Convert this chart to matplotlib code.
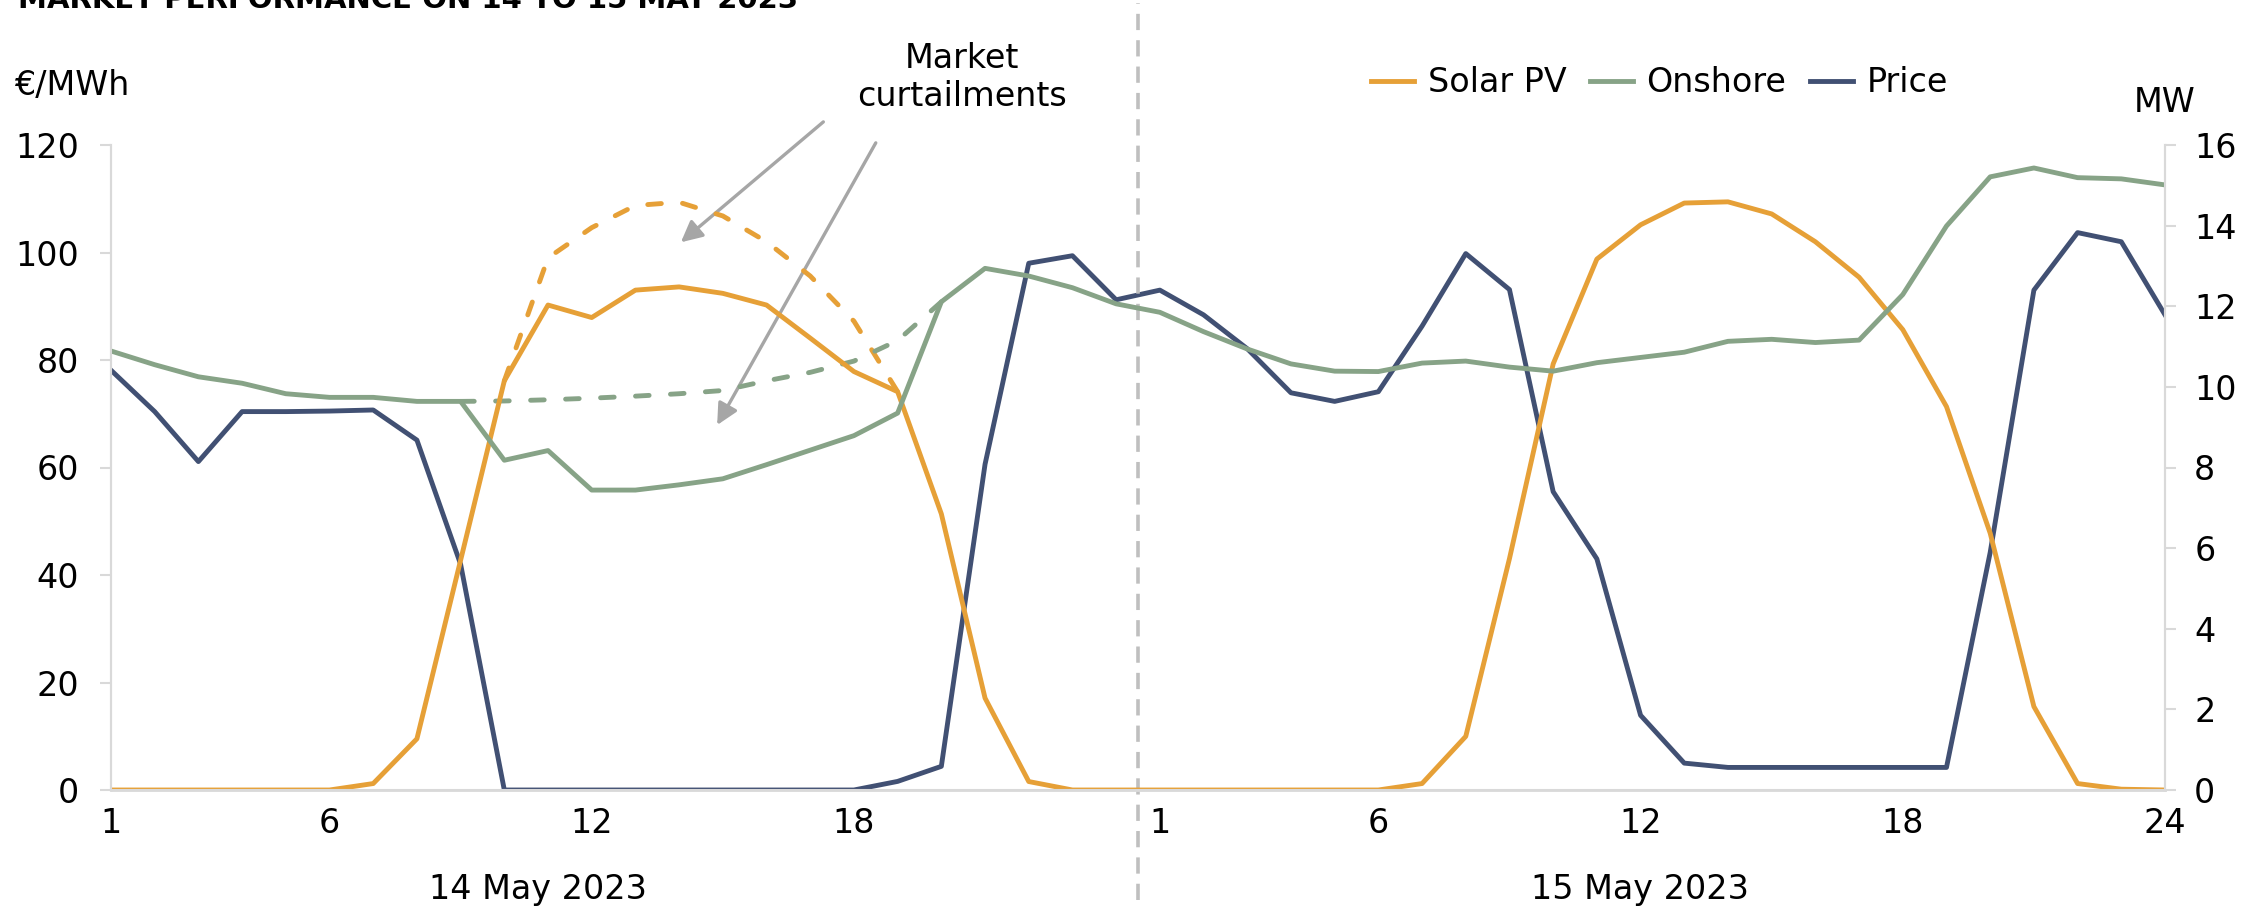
import numpy as np
import matplotlib
matplotlib.use('Agg')
import matplotlib.pyplot as plt

plt.rcParams['font.family'] = ['DejaVu Sans']

# hourly data, 14 May (1..24) then 15 May (1..24)
tick_pos = [0, 5, 11, 17, 24, 29, 35, 41, 47]
tick_lab = ['1', '6', '12', '18', '1', '6', '12', '18', '24']

price = [78.1, 70.4, 61.1, 70.4, 70.4, 70.5, 70.7, 65.1, 42.0, 0, 0, 0,
         0, 0, 0, 0, 0, 0, 1.6, 4.4, 60.6, 98.0, 99.4, 91.2,
         93.0, 88.4, 82.1, 73.9, 72.3, 74.1, 86.3, 99.8, 93.1, 55.5, 43.0, 13.9,
         5.0, 4.2, 4.2, 4.2, 4.2, 4.2, 4.2, 44.2, 93.0, 103.7, 102.0, 88.4]
onshore = [10.89, 10.55, 10.25, 10.09, 9.83, 9.74, 9.74, 9.64, 9.64, 8.18, 8.42, 7.44,
           7.44, 7.57, 7.72, 8.07, 8.43, 8.79, 9.35, 12.11, 12.94, 12.75, 12.46, 12.06,
           11.85, 11.37, 10.94, 10.57, 10.39, 10.38, 10.59, 10.64, 10.49, 10.39, 10.60, 10.73,
           10.86, 11.13, 11.18, 11.10, 11.16, 12.29, 13.99, 15.21, 15.43, 15.19, 15.16, 15.01]
solar = [0, 0, 0, 0, 0, 0, 0.16, 1.27, 5.7, 10.15, 12.03, 11.72,
         12.40, 12.48, 12.32, 12.03, 11.21, 10.38, 9.88, 6.85, 2.28, 0.21, 0, 0,
         0, 0, 0, 0, 0, 0, 0.16, 1.33, 5.74, 10.57, 13.17, 14.02,
         14.56, 14.59, 14.29, 13.60, 12.72, 11.42, 9.51, 6.37, 2.07, 0.16, 0.02, 0]
# potential output without market curtailment (14 May)
solar_pot_x = [9, 10, 11, 12, 13, 14, 15, 16, 17, 18]
solar_pot = [10.15, 13.2, 13.95, 14.5, 14.58, 14.24, 13.6, 12.75, 11.63, 9.88]
onshore_pot_x = [8, 9, 10, 11, 12, 13, 14, 15, 16, 17, 18, 19]
onshore_pot = [9.64, 9.65, 9.68, 9.72, 9.77, 9.83, 9.91, 10.15, 10.36, 10.64, 11.15, 12.11]

C_SOLAR = '#E6A037'
C_WIND = '#87A387'
C_PRICE = '#415073'
C_GRID = '#D9D9D9'
FS = 24
LW = 3.5
W, H = 2242, 906

x = np.arange(len(price))
fig = plt.figure(figsize=(W / 100, H / 100), dpi=100)
ax = fig.add_axes([111 / W, 1 - 790 / H, (2165 - 111) / W, (790 - 145) / H])
ax2 = ax.twinx()

ax.plot(x, price, color=C_PRICE, lw=LW, label='Price')
ax2.plot(solar_pot_x, solar_pot, color=C_SOLAR, lw=LW, ls=(0, (2.8, 4.4)), dash_capstyle='round')
ax2.plot(onshore_pot_x, onshore_pot, color=C_WIND, lw=LW, ls=(0, (2.8, 4.4)), dash_capstyle='round')
ax2.plot(x, solar, color=C_SOLAR, lw=LW, label='Solar PV')
ax2.plot(x, onshore, color=C_WIND, lw=LW, label='Onshore')

ax.set_xlim(0, 47)
ax.set_ylim(0, 120)
ax2.set_ylim(0, 16)
ax.set_yticks(range(0, 121, 20))
ax2.set_yticks(range(0, 17, 2))
ax.set_xticks(tick_pos)
ax.set_xticklabels(tick_lab)

for a in (ax, ax2):
    a.spines['top'].set_visible(False)
    for s in ('left', 'right', 'bottom'):
        a.spines[s].set_color(C_GRID)
        a.spines[s].set_linewidth(1.5)
    a.tick_params(axis='y', length=8, width=1.5, color=C_GRID, labelsize=FS)
    a.tick_params(axis='x', length=0, labelsize=FS, pad=12)
ax.tick_params(axis='y', pad=15)
ax2.tick_params(axis='y', pad=13)
ax.spines['bottom'].set_linewidth(2)

# day separator
ax.axvline(23.5, ymin=-0.17, ymax=1.22, clip_on=False, color='#BFBFBF', lw=2.6, ls=(0, (4.5, 2.8)))

# curtailment annotations
arw = dict(arrowstyle='-|>', color='#A6A6A6', lw=2.4, mutation_scale=32, shrinkA=0, shrinkB=0)
ax.annotate('', xy=(13.04, 101.9), xytext=(16.3, 124.3), arrowprops=arw, annotation_clip=False)
ax.annotate('', xy=(13.87, 67.9), xytext=(17.5, 120.4), arrowprops=arw, annotation_clip=False)
fig.text(962 / W, 1 - 42 / H, 'Market\ncurtailments', ha='center', va='top', fontsize=FS, linespacing=1.2)

fig.text(18 / W, 1 - 8 / H, 'MARKET PERFORMANCE ON 14 TO 15 MAY 2023', fontsize=21, fontweight='bold', va='baseline')
fig.text(14 / W, 1 - 95 / H, '€/MWh', fontsize=FS, va='baseline')
fig.text(2134 / W, 1 - 112 / H, 'MW', fontsize=FS, va='baseline')
fig.text(538 / W, 1 - 899 / H, '14 May 2023', fontsize=FS, ha='center', va='baseline')
fig.text(1640 / W, 1 - 899 / H, '15 May 2023', fontsize=FS, ha='center', va='baseline')

h2, l2 = ax2.get_legend_handles_labels()
h1, l1 = ax.get_legend_handles_labels()
leg = fig.legend(h2 + h1, l2 + l1, loc='center left', bbox_to_anchor=(1371 / W, 1 - 83 / H), ncol=3,
                 frameon=False, fontsize=FS, handlelength=1.3, handletextpad=0.4, columnspacing=0.7,
                 borderpad=0, borderaxespad=0)

fig.savefig('out.png', dpi=100)
